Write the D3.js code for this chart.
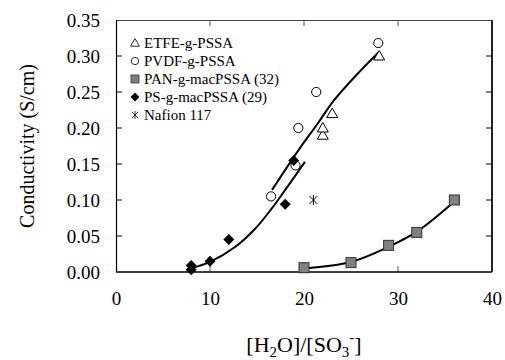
<!DOCTYPE html>
<html>
<head>
<meta charset="utf-8">
<script src="https://cdn.jsdelivr.net/npm/d3@7"></script>
<style>
  body { margin: 0; background: #fff; }
</style>
</head>
<body>
<div id="chart"></div>
<script>
// measured points
const etfeX = [22, 22, 23, 28];
const etfeY = [0.19, 0.20, 0.22, 0.30];
const pvdfX = [16.5, 19.1, 19.4, 21.3, 27.9];
const pvdfY = [0.105, 0.148, 0.20, 0.25, 0.318];
const panX = [20, 25, 29, 32, 36];
const panY = [0.006, 0.013, 0.037, 0.055, 0.10];
const psX = [8, 8, 10, 12, 18, 18.9];
const psY = [0.003, 0.009, 0.015, 0.045, 0.094, 0.155];
const nafionX = [21];
const nafionY = [0.10];

// trend lines
const fitGraftX = [16.6, 17.3, 19.4, 21.5, 23.1, 25.6, 28.0];
const fitGraftY = [0.114, 0.128, 0.169, 0.207, 0.237, 0.274, 0.306];
const fitPsX = [8, 10, 12.7, 14.8, 16.5, 18, 20.1];
const fitPsY = [0.005, 0.014, 0.035, 0.060, 0.087, 0.114, 0.153];
const fitPanX = [20, 25, 29, 32, 36];
const fitPanY = [0.005, 0.014, 0.035, 0.056, 0.098];

const xTicks = [0, 10, 20, 30, 40];
const yTicks = [0, 0.05, 0.10, 0.15, 0.20, 0.25, 0.30, 0.35];
const legendLabels = ['ETFE-g-PSSA', 'PVDF-g-PSSA', 'PAN-g-macPSSA (32)', 'PS-g-macPSSA (29)', 'Nafion 117'];

const FONT = 'Liberation Serif';

const width = 505, height = 360;
const margin = { top: 20, right: 13, bottom: 88, left: 116 };
const w = width - margin.left - margin.right;
const h = height - margin.top - margin.bottom;

const svg = d3.select('#chart').append('svg')
  .attr('width', width)
  .attr('height', height)
  .attr('font-family', FONT);

const g = svg.append('g')
  .attr('transform', `translate(${margin.left},${margin.top})`);

const x = d3.scaleLinear().domain([0, 40]).range([0, w]);
const y = d3.scaleLinear().domain([0, 0.35]).range([h, 0]);

const zip = (xs, ys) => xs.map((v, i) => ({ x: v, y: ys[i] }));

// axes, ticks pointing inward on all four sides
const fmtY = d3.format('.2f');
const inner = [10, 20, 30];
const innerY = yTicks.slice(1, -1);

const bottom = g.append('g').attr('transform', `translate(0,${h})`)
  .call(d3.axisBottom(x).tickValues(xTicks).tickSize(0).tickPadding(20).tickFormat(d3.format('d')));
bottom.attr('font-family', FONT).attr('font-size', 19);
bottom.select('.domain').remove();
bottom.selectAll('text').attr('fill', '#000');

const left = g.append('g')
  .call(d3.axisLeft(y).tickValues(yTicks).tickSize(0).tickPadding(16).tickFormat(fmtY));
left.attr('font-family', FONT).attr('font-size', 19);
left.select('.domain').remove();
left.selectAll('text').attr('fill', '#000');

g.selectAll('.tick-b').data(inner).enter().append('line')
  .attr('x1', d => x(d)).attr('x2', d => x(d))
  .attr('y1', h).attr('y2', h - 6)
  .attr('stroke', '#555').attr('stroke-width', 1);
g.selectAll('.tick-t').data(inner).enter().append('line')
  .attr('x1', d => x(d)).attr('x2', d => x(d))
  .attr('y1', 0).attr('y2', 6)
  .attr('stroke', '#555').attr('stroke-width', 1);
g.selectAll('.tick-l').data(innerY).enter().append('line')
  .attr('x1', 0).attr('x2', 6)
  .attr('y1', d => y(d)).attr('y2', d => y(d))
  .attr('stroke', '#000').attr('stroke-width', 1);
g.selectAll('.tick-r').data(innerY).enter().append('line')
  .attr('x1', w).attr('x2', w - 6)
  .attr('y1', d => y(d)).attr('y2', d => y(d))
  .attr('stroke', '#000').attr('stroke-width', 1);

// frame
g.append('line').attr('x1', 0).attr('x2', w).attr('y1', 0.5).attr('y2', 0.5)
  .attr('stroke', '#444').attr('stroke-width', 1);
g.append('line').attr('x1', w).attr('x2', w).attr('y1', 0).attr('y2', h)
  .attr('stroke', '#222').attr('stroke-width', 2);
g.append('line').attr('x1', 0.5).attr('x2', 0.5).attr('y1', 0).attr('y2', h)
  .attr('stroke', '#000').attr('stroke-width', 1.2);
g.append('line').attr('x1', 0).attr('x2', w).attr('y1', h).attr('y2', h)
  .attr('stroke', '#000').attr('stroke-width', 1.5);

// trend lines
const line = d3.line()
  .x(d => x(d.x))
  .y(d => y(d.y))
  .curve(d3.curveCatmullRom);

[zip(fitGraftX, fitGraftY), zip(fitPsX, fitPsY), zip(fitPanX, fitPanY)].forEach(pts => {
  g.append('path')
    .datum(pts)
    .attr('fill', 'none')
    .attr('stroke', '#000')
    .attr('stroke-width', 2)
    .attr('d', line);
});

// marker drawing helpers
const sym = {
  triangle: (sel) => sel.append('path')
    .attr('d', 'M0,-5.5L5.5,4L-5.5,4Z')
    .attr('fill', '#fff').attr('stroke', '#000').attr('stroke-width', 1),
  circle: (sel) => sel.append('circle')
    .attr('r', 4.6)
    .attr('fill', '#fff').attr('stroke', '#000').attr('stroke-width', 1),
  square: (sel) => sel.append('rect')
    .attr('x', -5).attr('y', -5).attr('width', 10).attr('height', 10)
    .attr('fill', '#808080').attr('stroke', '#333').attr('stroke-width', 1),
  diamond: (sel) => sel.append('path')
    .attr('d', 'M0,-5.5L5.5,0L0,5.5L-5.5,0Z')
    .attr('fill', '#000'),
  star: (sel) => sel.append('path')
    .attr('d', 'M-4,-4L4,4M-4,4L4,-4M0,-5L0,5')
    .attr('fill', 'none').attr('stroke', '#000').attr('stroke-width', 1)
};

const series = [
  { pts: zip(etfeX, etfeY), shape: 'triangle' },
  { pts: zip(pvdfX, pvdfY), shape: 'circle' },
  { pts: zip(panX, panY), shape: 'square' },
  { pts: zip(psX, psY), shape: 'diamond' },
  { pts: zip(nafionX, nafionY), shape: 'star' }
];

series.forEach(s => {
  g.selectAll(null).data(s.pts).enter().append('g')
    .attr('transform', d => `translate(${x(d.x)},${y(d.y)})`)
    .each(function () { sym[s.shape](d3.select(this)); });
});

// legend
const legend = svg.append('g').attr('transform', 'translate(135,43)');
legendLabels.forEach((label, i) => {
  const row = legend.append('g').attr('transform', `translate(0,${i * 18})`);
  const mk = row.append('g').attr('transform', 'scale(0.8)');
  sym[series[i].shape](mk);
  row.append('text')
    .attr('x', 9)
    .attr('y', 5)
    .attr('font-size', 15)
    .text(label);
});

// axis titles
svg.append('text')
  .attr('transform', `translate(34,${margin.top + h / 2}) rotate(-90)`)
  .attr('text-anchor', 'middle')
  .attr('font-size', 20)
  .text('Conductivity (S/cm)');

const xt = svg.append('text')
  .attr('x', margin.left + w / 2)
  .attr('y', 352)
  .attr('text-anchor', 'middle')
  .attr('font-size', 22);
xt.append('tspan').text('[H');
xt.append('tspan').attr('dy', 5).attr('font-size', 15).text('2');
xt.append('tspan').attr('dy', -5).text('O]/[SO');
xt.append('tspan').attr('dy', 5).attr('font-size', 15).text('3');
xt.append('tspan').attr('dy', -15).attr('font-size', 15).text('-');
xt.append('tspan').attr('dy', 10).text(']');
</script>
</body>
</html>
